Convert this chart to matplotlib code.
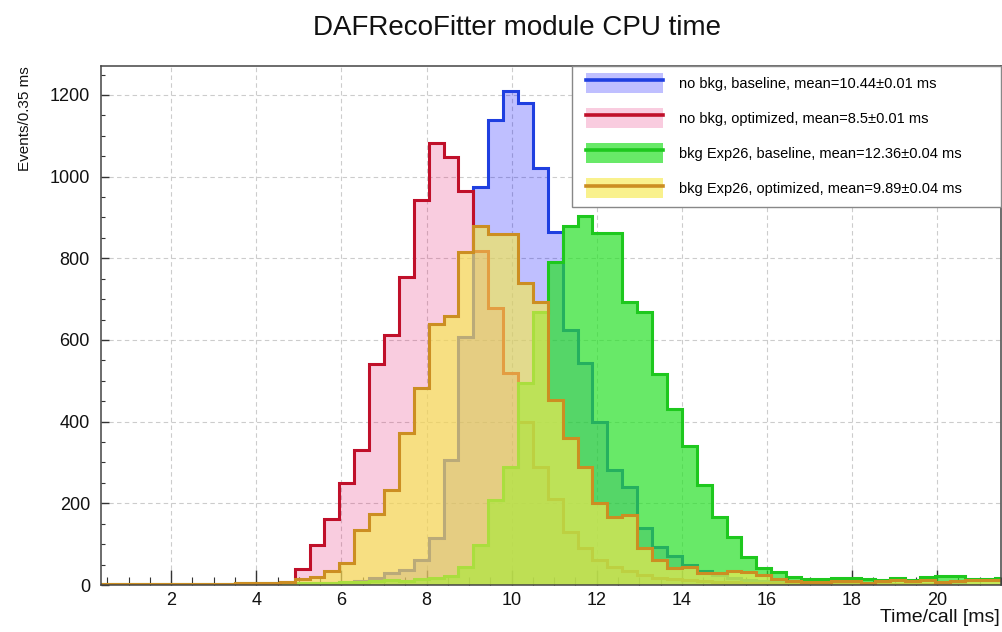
import numpy as np
import matplotlib
matplotlib.use("Agg")
import matplotlib.pyplot as plt
from matplotlib.patches import Patch, Rectangle
from matplotlib.lines import Line2D
from matplotlib.ticker import MultipleLocator

plt.rcParams['font.family'] = ['Liberation Sans', 'DejaVu Sans']

# --- data: events per 0.35 ms bin, bins from 0.35 to 21.7 ms ---
bin_width = 0.35
edges = np.arange(1, 63) * bin_width

nobkg_baseline = [0, 0, 0, 0, 0, 0, 0, 0, 0, 1, 1, 2, 3, 4, 5, 6, 8, 10, 18, 29,
                  37, 61, 114, 306, 608, 974, 1139, 1211, 1180, 1021, 864, 624, 543, 400, 282, 241,
                  140, 94, 70, 50, 35, 25, 18, 12, 10, 8, 6, 5, 4, 4, 3, 3,
                  3, 2, 2, 2, 2, 2, 1, 1, 1]
nobkg_optimized = [0, 0, 0, 0, 0, 0, 0, 0, 0, 1, 2, 3, 8, 38, 97, 161, 249, 330, 541, 613,
                   754, 942, 1083, 1048, 965, 819, 678, 519, 400, 290, 210, 130, 90, 62, 45, 35,
                   25, 18, 14, 12, 10, 8, 7, 6, 5, 5, 4, 4, 3, 3, 3, 2,
                   2, 2, 2, 2, 1, 1, 1, 1, 1]
bkg_baseline = [2, 2, 2, 3, 3, 3, 3, 3, 3, 4, 4, 4, 5, 5, 6, 6, 8, 8, 10, 12,
                10, 15, 18, 22, 43, 98, 208, 290, 494, 668, 792, 878, 904, 861, 863, 694,
                669, 517, 432, 340, 245, 167, 118, 69, 41, 33, 20, 14, 14, 18, 18, 14,
                12, 18, 12, 20, 22, 22, 14, 14, 16]
bkg_optimized = [3, 3, 3, 3, 3, 3, 3, 3, 3, 4, 4, 5, 8, 15, 20, 34, 55, 135, 173, 232,
                 372, 482, 638, 659, 815, 878, 860, 860, 740, 694, 453, 359, 290, 200, 167, 171,
                 90, 61, 41, 45, 29, 30, 35, 33, 25, 15, 10, 8, 8, 10, 10, 6,
                 10, 12, 10, 12, 8, 10, 12, 12, 12]

labels = ['no bkg, baseline, mean=10.44±0.01 ms',
          'no bkg, optimized, mean=8.5±0.01 ms',
          'bkg Exp26, baseline, mean=12.36±0.04 ms',
          'bkg Exp26, optimized, mean=9.89±0.04 ms']

# (fill colour, fill alpha, line colour)
styles = [('#0000ff', 0.25, '#1f3fe0'),
          ('#e8186e', 0.22, '#c0102a'),
          ('#28e128', 0.70, '#1ec81e'),
          ('#f6ea50', 0.65, '#cc8e22')]

W, H = 1002, 632
fig = plt.figure(figsize=(W / 100, H / 100), dpi=100)
ax = fig.add_axes([101 / W, 1 - 585 / H, 900 / W, (585 - 66) / H])

series = [nobkg_baseline, nobkg_optimized, bkg_baseline, bkg_optimized]
for vals, (fc, a, lc) in zip(series, styles):
    ax.stairs(vals, edges, fill=True, color=fc, alpha=a, lw=0)
    ax.stairs(vals, edges, color=lc, lw=2.2)

ax.set_xlim(0.35, 21.5)
ax.set_ylim(0, 1271)
ax.xaxis.set_major_locator(MultipleLocator(2))
ax.xaxis.set_minor_locator(MultipleLocator(0.5))
ax.yaxis.set_major_locator(MultipleLocator(200))
ax.yaxis.set_minor_locator(MultipleLocator(50))
ax.tick_params(axis='x', which='major', direction='in', length=11, width=1, pad=5,
               labelsize=13, colors='#333', labelcolor='#111')
ax.tick_params(axis='x', which='minor', direction='in', length=6, width=0.8, colors='#333')
ax.tick_params(axis='y', which='major', direction='in', length=6, width=1, pad=8,
               labelsize=13, colors='#333', labelcolor='#111')
ax.tick_params(axis='y', which='minor', direction='in', length=3, width=0.8, colors='#333')
ax.set_xticks([2, 4, 6, 8, 10, 12, 14, 16, 18, 20])
ax.grid(True, which='major', ls=(0, (4, 3)), color='#cccccc', lw=0.8)
ax.set_axisbelow(True)
for s in ax.spines.values():
    s.set_color('#444')
    s.set_linewidth(1.1)

# titles
fig.text(517 / W, 1 - 28 / H, 'DAFRecoFitter module CPU time', ha='center', va='center',
         fontsize=20, color='#111')
fig.text(25 / W, 1 - 66 / H, 'Events/0.35 ms', rotation=90, ha='center', va='top',
         fontsize=11, color='#111')
fig.text(1000 / W, 1 - 618 / H, 'Time/call [ms]', ha='right', va='center',
         fontsize=14, color='#111')

# legend
frame = Rectangle((572 / W, 1 - 207 / H), (1001 - 572) / W, (207 - 66) / H,
                  transform=fig.transFigure, facecolor='white', edgecolor='#888',
                  lw=1, zorder=15, clip_on=False)
ax.add_patch(frame)
handles = [(Patch(facecolor=fc, alpha=a, edgecolor='none'), Line2D([], [], color=lc, lw=2.6))
           for fc, a, lc in styles]
leg = ax.legend(handles, labels, loc='upper left',
                bbox_to_anchor=(586 / W, 1 - 73 / H), bbox_transform=fig.transFigure,
                frameon=False, fontsize=10.5, handlelength=5.3, handleheight=1.75,
                handletextpad=1.1, labelspacing=1.02, borderpad=0, borderaxespad=0)
leg.set_zorder(20)

fig.savefig('out.png', dpi=100)
